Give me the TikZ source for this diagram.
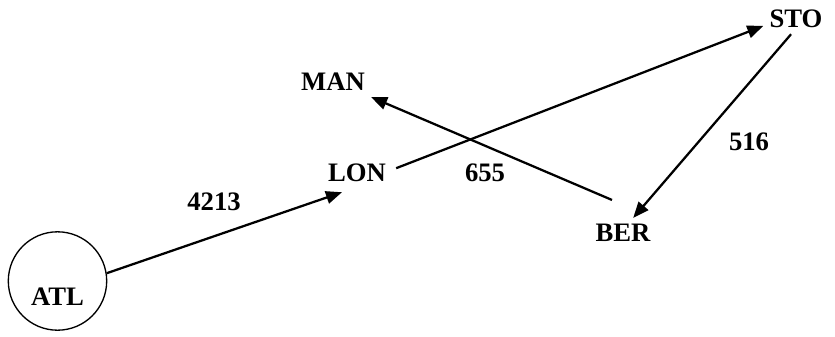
\documentclass[tikz,border=0pt]{standalone}
\usepackage{fontspec}
\setmainfont{Liberation Serif}
\usetikzlibrary{arrows.meta}

\begin{document}
\begin{tikzpicture}[
    x=0.75pt,
    y=-0.75pt,
    city/.style={
        inner sep=4.5pt,
        font=\fontsize{20}{23}\selectfont\bfseries
    },
    hub/.style={
        draw,
        circle,
        line width=1pt,
        minimum size=73.8pt,
        inner sep=0pt,
        text height=37.2pt,
        font=\fontsize{20}{23}\selectfont\bfseries
    },
    dist/.style={font=\fontsize{20}{23}\selectfont\bfseries},
    route/.style={-{Triangle[length=12pt,width=9.5pt]}, line width=1.7pt}
]
\useasboundingbox (0,0) rectangle (835,336);

\node[hub] (atl) at (57.5,281) {ATL};
\node[city, inner sep=7.5pt] (lon) at (357,173) {LON};
\node[city] (man) at (333,82) {MAN};
\node[city] (sto) at (796,19) {STO};
\node[city] (ber) at (623,233) {BER};

\node[dist] (d1) at (214,202) {4213};
\node[dist] (d2) at (485,173) {655};
\node[dist] (d3) at (749,142) {516};

\draw[route] (atl.9) -- (lon.232);
\draw[route] (lon.7) -- (sto.192);
\draw[route] (sto.252) -- (ber.56);
\draw[route] ([shift={(-11,-18)}]ber.north) -- (man.south east);

\end{tikzpicture}
\end{document}
